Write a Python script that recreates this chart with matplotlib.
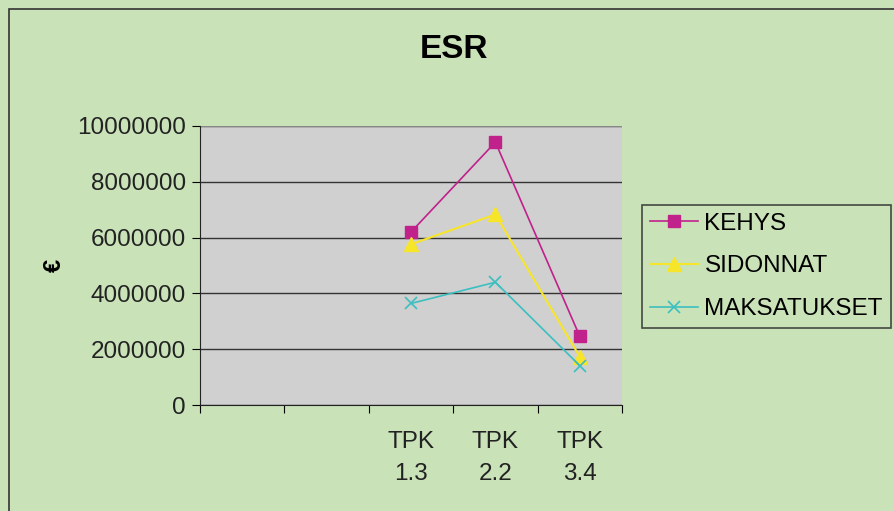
import matplotlib.pyplot as plt
from matplotlib.patches import Rectangle

plt.rcParams['font.family'] = ['Liberation Sans', 'DejaVu Sans']

# data
categories = ['', '', 'TPK\n1.3', 'TPK\n2.2', 'TPK\n3.4']
series_names = ['KEHYS', 'SIDONNAT', 'MAKSATUKSET']
kehys = [6200000, 9420000, 2460000]
sidonnat = [5760000, 6830000, 1730000]
maksatukset = [3640000, 4400000, 1410000]
yticks = [0, 2000000, 4000000, 6000000, 8000000, 10000000]

fig = plt.figure(figsize=(8.95, 5.11), dpi=100)
fig.patch.set_facecolor('#c9e2b8')
# outer chart frame
fig.patches.append(Rectangle((9 / 895, -0.05), 1.0, 1 - 9 / 511 + 0.05,
                             transform=fig.transFigure, fill=False,
                             edgecolor='#333333', linewidth=1.2))

ax = fig.add_axes([200 / 895, 106 / 511, 422 / 895, 279 / 511])
ax.set_facecolor('#d0d0d0')

xs = [2, 3, 4]
ax.plot(xs, kehys, color='#c0218b', marker='s', markersize=9, lw=1.2,
        label=series_names[0])
ax.plot(xs, sidonnat, color='#f7e52a', marker='^', markersize=10, lw=1.5,
        label=series_names[1])
ax.plot(xs, maksatukset, color='#3cbfc0', marker='x', markersize=9,
        markeredgewidth=1.2, lw=1.2, label=series_names[2])

ax.set_xlim(-0.5, 4.5)
ax.set_ylim(0, 10000000)
ax.set_yticks(yticks)
ax.set_yticklabels([str(v) for v in yticks], fontsize=17.5, color='#222222')
ax.yaxis.grid(True, color='#333333', lw=1)
ax.set_axisbelow(True)

# ticks on category boundaries, labels at centres
ax.set_xticks([i - 0.5 for i in range(6)])
ax.set_xticklabels([])
ax.set_xticks(range(5), minor=True)
ax.set_xticklabels(categories, minor=True, fontsize=17.5, color='#222222',
                   linespacing=1.55)
ax.tick_params(axis='x', which='minor', length=0, pad=19)
ax.tick_params(axis='x', which='major', length=6, direction='out')
ax.tick_params(axis='y', length=6, direction='out', pad=4)

for s in ['top', 'right']:
    ax.spines[s].set_visible(False)
ax.spines['left'].set_color('#222222')
ax.spines['bottom'].set_color('#222222')
ax.axhline(10000000, color='#888888', lw=1.5)

ax.set_ylabel('€', fontsize=17, fontweight='bold', labelpad=8)
fig.text(454 / 895, 1 - 49 / 511, 'ESR', fontsize=24, fontweight='bold',
         ha='center', va='center')

leg = fig.legend(loc='upper left', bbox_to_anchor=(642 / 895, 1 - 205 / 511),
                 fontsize=17.5, frameon=True, fancybox=False,
                 handlelength=2.0, handletextpad=0.25, borderpad=0.32,
                 labelspacing=0.85, borderaxespad=0)
leg.get_frame().set_edgecolor('#222222')
leg.get_frame().set_facecolor('none')
leg.get_frame().set_linewidth(1.2)

fig.savefig('out.png', dpi=100, facecolor=fig.get_facecolor())
